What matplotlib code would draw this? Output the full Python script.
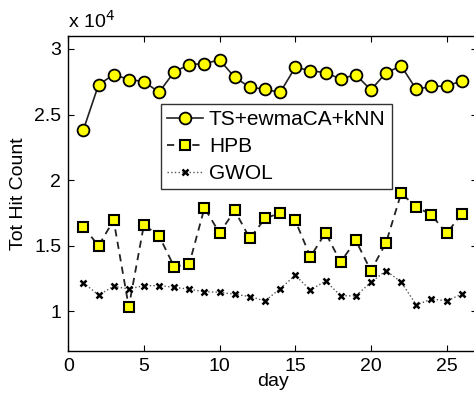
import matplotlib
matplotlib.use("Agg")
import matplotlib.pyplot as plt

plt.rcParams['font.family'] = ['Liberation Sans', 'DejaVu Sans']

days = list(range(1, 27))

# values in units of 1e4
ts_ewma_knn = [2.384, 2.726, 2.805, 2.767, 2.751, 2.670, 2.825, 2.881, 2.888, 2.916,
               2.784, 2.708, 2.693, 2.668, 2.860, 2.835, 2.818, 2.772, 2.803, 2.688,
               2.818, 2.871, 2.691, 2.716, 2.716, 2.757]
hpb = [1.644, 1.500, 1.695, 1.034, 1.660, 1.576, 1.340, 1.363, 1.789, 1.597,
       1.769, 1.556, 1.708, 1.751, 1.693, 1.416, 1.599, 1.376, 1.541, 1.310,
       1.523, 1.900, 1.796, 1.736, 1.594, 1.743]
gwol = [1.219, 1.125, 1.191, 1.171, 1.196, 1.196, 1.184, 1.169, 1.150, 1.146,
        1.131, 1.113, 1.080, 1.173, 1.275, 1.163, 1.232, 1.120, 1.118, 1.222,
        1.310, 1.224, 1.049, 1.095, 1.080, 1.131]

fig = plt.figure(figsize=(4.74, 4.0), dpi=100)
ax = fig.add_axes([0.144, 0.123, 0.862, 0.7875])

ax.plot(days, ts_ewma_knn, '-o', color='#222222', lw=1.2, ms=8.5,
        mfc='#ffff00', mec='black', mew=1.3, label='TS+ewmaCA+kNN')
ax.plot(days, hpb, '--s', color='#222222', lw=1.3, ms=6.5, dashes=(4, 3),
        mfc='#ffff00', mec='black', mew=1.5, label='HPB')
ax.plot(days, gwol, ':x', color='#555555', lw=1.0, ms=4.5,
        mec='black', mew=1.8, label='GWOL')

ax.set_xlim(0, 27)
ax.set_ylim(0.7, 3.1)
ax.set_xticks([0, 5, 10, 15, 20, 25])
ax.set_yticks([1, 1.5, 2, 2.5, 3])
ax.set_yticklabels(['1', '1.5', '2', '2.5', '3'])
ax.tick_params(direction='in', top=True, right=True, labelsize=14, length=4, width=0.8, pad=5)
ax.set_xlabel('day', fontsize=14, labelpad=-1)
ax.set_ylabel('Tot Hit Count', fontsize=14, labelpad=5)
for s in ax.spines.values():
    s.set_linewidth(1.0)

ax.text(0.0, 1.012, r'x 10$^4$', transform=ax.transAxes, fontsize=14,
        ha='left', va='bottom')

leg = ax.legend(loc='upper left', bbox_to_anchor=(0.227, 0.783), fontsize=15,
                frameon=True, fancybox=False, edgecolor='black',
                borderaxespad=0, handlelength=1.7, borderpad=0.3,
                labelspacing=0.38, handletextpad=0.3)
leg.get_frame().set_linewidth(1.0)

fig.savefig('out.png', dpi=100)
